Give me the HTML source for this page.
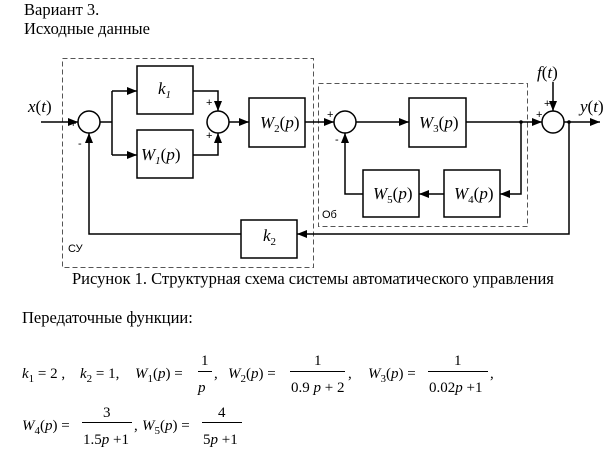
<!DOCTYPE html>
<html><head><meta charset="utf-8"><style>
html,body{margin:0;padding:0;background:#fff;}
svg{display:block;}
.t{font-family:"Liberation Serif",serif;font-size:15px;fill:#000;}
.h{font-size:16.5px;}
.m{font-family:"Liberation Serif",serif;font-size:17px;font-style:italic;fill:#000;}
.s{font-family:"Liberation Sans",sans-serif;font-size:11px;fill:#000;}
.n{font-style:normal;}
</style></head><body>
<svg width="616" height="451" viewBox="0 0 616 451" xmlns="http://www.w3.org/2000/svg">
<defs><marker id="a" markerWidth="10" markerHeight="8" refX="10" refY="4" orient="auto" markerUnits="userSpaceOnUse"><path d="M0,0 L10,4 L0,8 z" fill="#000"/></marker></defs>
<text class="t h" x="24" y="15">Вариант 3.</text>
<text class="t h" x="24" y="34">Исходные данные</text>
<g fill="none" stroke="#555" stroke-dasharray="5,3" stroke-width="1">
<rect x="62.5" y="58.5" width="251" height="209"/>
<rect x="318.5" y="83.5" width="209" height="143"/>
</g>
<g fill="none" stroke="#000" stroke-width="1.5">
<rect x="137" y="66" width="56" height="48" fill="#fff"/>
<rect x="137" y="130" width="56" height="48" fill="#fff"/>
<rect x="249" y="98" width="56" height="49" fill="#fff"/>
<rect x="241" y="220" width="56" height="38" fill="#fff"/>
<rect x="409" y="98" width="57" height="49" fill="#fff"/>
<rect x="444" y="170" width="56" height="47" fill="#fff"/>
<rect x="363" y="170" width="56" height="47" fill="#fff"/>
<circle cx="89" cy="122" r="11"/>
<circle cx="218" cy="122" r="11"/>
<circle cx="345" cy="122" r="11"/>
<circle cx="553" cy="122" r="11"/>
<path d="M41,122 H78" marker-end="url(#a)"/>
<path d="M100,122 H112 M112,91 V155"/>
<path d="M112,91 H137" marker-end="url(#a)"/>
<path d="M112,155 H137" marker-end="url(#a)"/>
<path d="M193,91 H218 V111" marker-end="url(#a)"/>
<path d="M193,155 H218 V133" marker-end="url(#a)"/>
<path d="M229,122 H249" marker-end="url(#a)"/>
<path d="M305,122 H334" marker-end="url(#a)"/>
<path d="M356,122 H409" marker-end="url(#a)"/>
<path d="M466,122 H542" marker-end="url(#a)"/>
<path d="M521,122 V194 H500" marker-end="url(#a)"/>
<path d="M444,194 H419" marker-end="url(#a)"/>
<path d="M363,194 H345 V133" marker-end="url(#a)"/>
<path d="M553,82 V111" marker-end="url(#a)"/>
<path d="M564,122 H600" marker-end="url(#a)"/>
<path d="M569,122 V234 H297" marker-end="url(#a)"/>
<path d="M241,234 H89 V133" marker-end="url(#a)"/>
</g>
<circle cx="521" cy="122" r="1.8"/><circle cx="569" cy="122" r="1.8"/>
<g class="s">
<text x="70" y="127">+</text><text x="78" y="147">-</text>
<text x="206" y="106">+</text><text x="206" y="139">+</text>
<text x="327" y="118">+</text><text x="335" y="143">-</text>
<text x="536" y="118">+</text><text x="544" y="107">+</text>
<text x="68" y="252">СУ</text><text x="322" y="218">Об</text>
</g>
<text class="m" x="158" y="94">k<tspan font-size="11" dy="4">1</tspan></text>
<text class="m" x="141" y="160">W<tspan font-size="11" dy="4">1</tspan><tspan dy="-4" class="n">(</tspan>p<tspan class="n">)</tspan></text>
<text class="m" x="260" y="128">W<tspan font-size="11" dy="4" class="n">2</tspan><tspan dy="-4" class="n">(</tspan>p<tspan class="n">)</tspan></text>
<text class="m" x="263" y="241">k<tspan font-size="11" dy="4" class="n">2</tspan></text>
<text class="m" x="419" y="128">W<tspan font-size="11" dy="4" class="n">3</tspan><tspan dy="-4" class="n">(</tspan>p<tspan class="n">)</tspan></text>
<text class="m" x="454" y="199">W<tspan font-size="11" dy="4" class="n">4</tspan><tspan dy="-4" class="n">(</tspan>p<tspan class="n">)</tspan></text>
<text class="m" x="373" y="199">W<tspan font-size="11" dy="4" class="n">5</tspan><tspan dy="-4" class="n">(</tspan>p<tspan class="n">)</tspan></text>
<text class="m" x="28" y="112">x<tspan class="n">(</tspan>t<tspan class="n">)</tspan></text>
<text class="m" x="537" y="78">f<tspan class="n">(</tspan>t<tspan class="n">)</tspan></text>
<text class="m" x="580" y="112">y<tspan class="n">(</tspan>t<tspan class="n">)</tspan></text>
<text class="t h" x="72" y="284">Рисунок 1. Структурная схема системы автоматического управления</text>
<text class="t h" x="22" y="323">Передаточные функции:</text>
<g class="t" font-size="16">
<text x="22" y="378"><tspan font-style="italic">k</tspan><tspan font-size="11" dy="4">1</tspan><tspan dy="-4"> = 2 ,</tspan></text>
<text x="80" y="378"><tspan font-style="italic">k</tspan><tspan font-size="11" dy="4">2</tspan><tspan dy="-4"> = 1,</tspan></text>
<text x="135" y="378"><tspan font-style="italic">W</tspan><tspan font-size="11" dy="4">1</tspan><tspan dy="-4">(</tspan><tspan font-style="italic">p</tspan>) =</text>
<text x="201" y="365">1</text><text x="198" y="392" font-style="italic">p</text><text x="214" y="378">,</text>
<text x="228" y="378"><tspan font-style="italic">W</tspan><tspan font-size="11" dy="4">2</tspan><tspan dy="-4">(</tspan><tspan font-style="italic">p</tspan>) =</text>
<text x="314" y="365">1</text><text x="291" y="392">0.9 <tspan font-style="italic">p</tspan> + 2</text><text x="348" y="378">,</text>
<text x="368" y="378"><tspan font-style="italic">W</tspan><tspan font-size="11" dy="4">3</tspan><tspan dy="-4">(</tspan><tspan font-style="italic">p</tspan>) =</text>
<text x="454" y="365">1</text><text x="429" y="392">0.02<tspan font-style="italic">p</tspan> +1</text><text x="490" y="378">,</text>
<text x="22" y="430"><tspan font-style="italic">W</tspan><tspan font-size="11" dy="4">4</tspan><tspan dy="-4">(</tspan><tspan font-style="italic">p</tspan>) =</text>
<text x="103" y="417">3</text><text x="83" y="444">1.5<tspan font-style="italic">p</tspan> +1</text><text x="134" y="430">,</text>
<text x="142" y="430"><tspan font-style="italic">W</tspan><tspan font-size="11" dy="4">5</tspan><tspan dy="-4">(</tspan><tspan font-style="italic">p</tspan>) =</text>
<text x="218" y="417">4</text><text x="203" y="444">5<tspan font-style="italic">p</tspan> +1</text>
</g>
<g stroke="#000" stroke-width="1">
<line x1="198" y1="371.5" x2="212" y2="371.5"/>
<line x1="290" y1="371.5" x2="345" y2="371.5"/>
<line x1="428" y1="371.5" x2="488" y2="371.5"/>
<line x1="82" y1="422.5" x2="132" y2="422.5"/>
<line x1="202" y1="422.5" x2="242" y2="422.5"/>
</g>
</svg>
</body></html>
